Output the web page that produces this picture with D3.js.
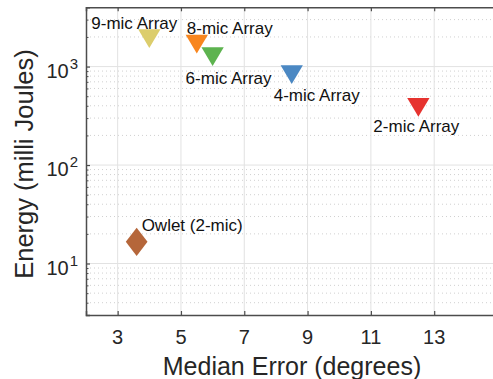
<!DOCTYPE html>
<html><head><meta charset="utf-8">
<script src="https://cdn.jsdelivr.net/npm/d3@7"></script>
<style>
html,body{margin:0;padding:0;background:#fff;}
svg{display:block;}
text{font-family:"Liberation Sans",Arial,Helvetica,sans-serif;fill:#262626;}
</style></head>
<body>
<div id="chart"></div>
<script>
// ---- data ----
const names = ["9-mic Array","8-mic Array","6-mic Array","4-mic Array","2-mic Array","Owlet (2-mic)"];
const medianError = [4.0, 5.5, 6.0, 8.5, 12.5, 3.6];
const energy = [1920, 1690, 1265, 830, 385, 16.6];
const markerTypes = ["tri","tri","tri","tri","tri","diamond"];
const colors = ["#dccd6c","#f8861e","#5db34f","#4b88c3","#e6332f","#b5663a"];
const xTicks = [3,5,7,9,11,13];
const yTicks = [10,100,1000];
const xDomain = [2,15];
const yDomain = [3,4000];
// label offsets (layout, px from marker center): dx, dy of baseline-left
const labelOffsets = [[-58,-10],[-10,-10.5],[-27,27],[-18,26],[-45,24.5],[5,-11]];

const W=493,H=379;
const m={left:86,top:7.3,right:497.5,bottom:315};
const svg=d3.select("#chart").append("svg").attr("width",W).attr("height",H);
const x=d3.scaleLinear().domain(xDomain).range([m.left,m.right]);
const y=d3.scaleLog().domain(yDomain).range([m.bottom,m.top]);

const g=svg.append("g");
// minor grid (dotted)
const minorVals=[];
for(let d=1;d<=1000;d*=10){for(let k=2;k<=9;k++){const v=k*d;if(v>yDomain[0]&&v<yDomain[1])minorVals.push(v);}}
g.selectAll(".minor").data(minorVals).enter().append("line")
 .attr("x1",m.left).attr("x2",m.right).attr("y1",d=>y(d)).attr("y2",d=>y(d))
 .attr("stroke","#d0d0d0").attr("stroke-width",1).attr("stroke-dasharray","1,3");
// major grid
g.selectAll(".gx").data(xTicks).enter().append("line")
 .attr("x1",d=>x(d)).attr("x2",d=>x(d)).attr("y1",m.top).attr("y2",m.bottom)
 .attr("stroke","#e2e2e2").attr("stroke-width",1);
g.selectAll(".gy").data(yTicks).enter().append("line")
 .attr("x1",m.left).attr("x2",m.right).attr("y1",d=>y(d)).attr("y2",d=>y(d))
 .attr("stroke","#e2e2e2").attr("stroke-width",1);

// axes (MATLAB style inward ticks)
const axColor="#4d4d4d";
const xAxisB=d3.axisBottom(x).tickValues(xTicks).tickSize(-4).tickPadding(0).tickFormat("");
const xAxisT=d3.axisTop(x).tickValues(xTicks).tickSize(-4).tickFormat("");
const yAxisL=d3.axisLeft(y).tickValues(yTicks).tickSize(-4).tickFormat("");
const yAxisLm=d3.axisLeft(y).tickValues(minorVals).tickSize(-2.5).tickFormat("");
const yAxisR=d3.axisRight(y).tickValues(yTicks).tickSize(-4).tickFormat("");
function style(sel){sel.selectAll("path,line").attr("stroke",axColor).attr("stroke-width",1.2);sel.select(".domain").attr("stroke-width",1.5);}
svg.append("g").attr("transform",`translate(0,${m.bottom})`).call(xAxisB).call(style);
svg.append("g").attr("transform",`translate(0,${m.top})`).call(xAxisT).call(style);
svg.append("g").attr("transform",`translate(${m.left},0)`).call(yAxisL).call(style);
svg.append("g").attr("transform",`translate(${m.left},0)`).call(yAxisLm).call(s=>{s.selectAll("line").attr("stroke",axColor).attr("stroke-width",1);s.select(".domain").remove();});
svg.append("g").attr("transform",`translate(${m.right},0)`).call(yAxisR).call(style);

// tick labels
svg.selectAll(".xl").data(xTicks).enter().append("text")
 .attr("x",d=>x(d)).attr("y",344).attr("text-anchor","middle").attr("font-size",20).text(d=>d);
yTicks.forEach(v=>{
  const exp=Math.round(Math.log10(v));
  const t=svg.append("text").attr("x",78).attr("y",y(v)+11).attr("text-anchor","end").attr("font-size",20);
  t.append("tspan").text("10");
  t.append("tspan").attr("dy",-9).attr("dx",1).attr("font-size",15).text(exp);
});
// axis titles
svg.append("text").attr("x",292).attr("y",375)
 .attr("text-anchor","middle").attr("font-size",25).text("Median Error (degrees)");
svg.append("text").attr("transform","translate(33,164) rotate(-90)")
 .attr("text-anchor","middle").attr("font-size",25.5).text("Energy (milli Joules)");

// markers
const tri=(w,h)=>`M${-w/2},${-h/2}L${w/2},${-h/2}L0,${h/2}Z`;
const dia=(w,h)=>`M0,${-h/2}L${w/2},0L0,${h/2}L${-w/2},0Z`;
const pts=names.map((n,i)=>({n,x:medianError[i],y:energy[i],t:markerTypes[i],c:colors[i],o:labelOffsets[i]}));
svg.selectAll(".mk").data(pts).enter().append("path")
 .attr("transform",d=>`translate(${x(d.x)},${y(d.y)})`)
 .attr("d",d=>d.t==="tri"?tri(22.3,18.7):dia(21.7,28.4))
 .attr("fill",d=>d.c);
svg.selectAll(".lb").data(pts).enter().append("text")
 .attr("x",d=>x(d.x)+d.o[0]).attr("y",d=>y(d.y)+d.o[1])
 .attr("font-size",17).style("fill","#111").text(d=>d.n);
</script>
</body></html>
